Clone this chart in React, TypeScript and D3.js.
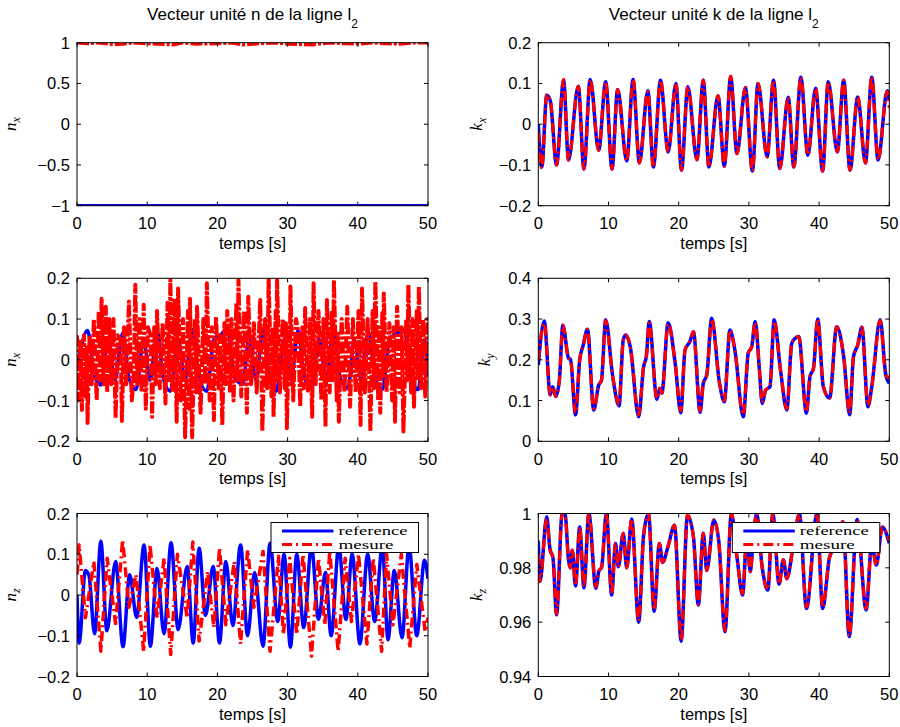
import React from 'react';
import * as d3 from 'd3';

// ---------- tick labels ----------
const T_TICKS = [0, 10, 20, 30, 40, 50];
const NX1_TICKS = [-1, -0.5, 0, 0.5, 1];
const NX1_LABELS = ['\u22121', '\u22120.5', '0', '0.5', '1'];
const PM02_TICKS = [-0.2, -0.1, 0, 0.1, 0.2];
const PM02_LABELS = ['\u22120.2', '\u22120.1', '0', '0.1', '0.2'];
const KY_TICKS = [0, 0.1, 0.2, 0.3, 0.4];
const KY_LABELS = ['0', '0.1', '0.2', '0.3', '0.4'];
const KZ_TICKS = [0.94, 0.96, 0.98, 1];
const KZ_LABELS = ['0.94', '0.96', '0.98', '1'];

// ---------- row 1 left : n_x ----------
const nxRefT = [0, 50];
const nxRefV = [-1, -1];
const nxMesT = [0, 1.5, 3, 4.5, 5.2, 6.5, 8, 10, 13.7, 15, 17, 20, 22, 23.6, 26, 28, 30, 33.6, 36, 38, 40, 42, 44, 46, 48, 50];
const nxMesV = [1, 0.99, 1, 0.985, 0.975, 0.985, 1, 0.99, 0.975, 1, 0.985, 0.99, 1, 0.975, 0.99, 1, 0.985, 0.975, 1, 0.99, 0.985, 1, 0.99, 0.985, 1, 1];

// ---------- row 2 left : n_x (second) ----------
const nyRefT = [0, 1.5, 2.5, 3.4, 4.4, 5.4, 6.5, 7.4, 8.4, 9.5, 10.4, 11.4, 12.3, 13.3, 14.4, 15.4, 16.4, 17.4, 18.5, 19.5, 20.5, 21.4, 22.5, 23.6, 24.5, 25.5, 26.5, 27.4, 28.4, 29.5, 30.5, 31.5, 32.4, 33.4, 34.5, 35.5, 36.5, 37.5, 38.6, 39.5, 40.5, 41.5, 42.5, 43.5, 44.5, 45.5, 46.6, 47.6, 48.6, 49.5, 50];
const nyRefV = [-0.02, 0.072, -0.04, -0.062, 0.05, -0.05, 0.065, -0.045, -0.073, 0.05, -0.05, 0.072, -0.045, -0.077, 0.05, -0.05, 0.075, -0.045, -0.077, 0.05, 0.062, 0.075, -0.045, -0.06, 0.05, -0.05, 0.075, -0.045, -0.077, 0.05, -0.05, 0.072, -0.045, -0.065, 0.05, -0.05, 0.066, -0.045, -0.07, 0.05, -0.05, 0.07, -0.045, -0.073, 0.05, 0.064, 0.075, -0.045, -0.073, 0.05, -0.04];
const nyMesT = [0, 0.2, 0.5, 0.7, 1.0, 1.2, 1.4, 1.5, 1.8, 2.1, 2.4, 2.8, 3.1, 3.3, 3.5, 3.8, 4.1, 4.3, 4.6, 4.9, 5.2, 5.5, 5.8, 6.2, 6.4, 6.7, 7.0, 7.4, 7.8, 8.1, 8.3, 8.6, 8.9, 9.2, 9.5, 9.8, 10.1, 10.5, 10.7, 11.0, 11.2, 11.4, 11.8, 12.2, 12.6, 12.9, 13.1, 13.3, 13.6, 13.9, 14.2, 14.4, 14.8, 15.1, 15.4, 15.8, 16.0, 16.1, 16.4, 16.8, 17.0, 17.1, 17.6, 18.0, 18.3, 18.5, 18.9, 19.2, 19.5, 19.8, 20.2, 20.4, 20.7, 21.0, 21.2, 21.4, 21.8, 22.0, 22.3, 22.7, 22.85, 23.0, 23.4, 23.8, 24.2, 24.4, 24.8, 25.2, 25.6, 26.1, 26.4, 26.8, 27.1, 27.3, 27.7, 27.85, 28.0, 28.3, 28.4, 28.5, 28.9, 29.3, 29.6, 29.75, 29.9, 30.2, 30.3, 30.4, 30.8, 31.2, 31.5, 31.8, 32.1, 32.3, 32.5, 32.9, 33.2, 33.5, 33.7, 34.0, 34.4, 34.8, 35.1, 35.4, 35.6, 36.0, 36.3, 36.45, 36.6, 37.0, 37.15, 37.3, 37.7, 38.1, 38.5, 38.9, 39.3, 39.7, 40.1, 40.4, 40.6, 41.0, 41.4, 41.8, 42.1, 42.3, 42.5, 42.9, 43.05, 43.2, 43.5, 43.6, 43.7, 44.1, 44.5, 44.9, 45.1, 45.3, 45.6, 46.0, 46.25, 46.5, 46.9, 47.05, 47.2, 47.6, 47.8, 48.0, 48.4, 48.55, 48.7, 49.0, 49.3, 49.6, 49.9, 50];
const nyMesV = [0.06, -0.1, 0.05, -0.123, 0.06, -0.09, 0.03, -0.155, 0.06, -0.06, 0.1, -0.1, 0.12, -0.05, 0.15, -0.06, 0.13, -0.08, 0.1, -0.06, 0.1, -0.143, 0.06, 0.05, -0.15, 0.08, -0.06, 0.143, -0.1, -0.04, 0.184, -0.06, 0.1, -0.08, 0.135, -0.12, 0.08, 0.06, -0.14, 0.08, -0.06, 0.12, -0.07, 0.09, -0.107, 0.14, -0.05, 0.196, -0.08, 0.15, -0.152, 0.175, -0.1, 0.1, -0.19, 0.12, -0.12, 0.15, -0.19, 0.1, -0.08, 0.13, -0.13, 0.1, -0.06, 0.188, -0.1, 0.08, -0.148, 0.105, -0.07, 0.06, -0.16, 0.09, -0.06, 0.12, -0.08, 0.1, -0.1, 0.14, -0.05, 0.196, -0.09, 0.12, -0.13, 0.155, -0.06, 0.09, -0.08, 0.147, -0.176, 0.1, -0.07, 0.2, -0.09, 0.08, -0.14, 0.12, -0.05, 0.196, -0.08, 0.1, -0.07, 0.09, -0.168, 0.08, -0.06, 0.18, -0.1, 0.1, 0.07, -0.115, 0.08, -0.07, 0.127, -0.08, 0.1, -0.14, 0.188, -0.06, 0.12, -0.1, 0.1, -0.164, 0.147, -0.08, 0.12, -0.05, 0.196, -0.1, 0.07, -0.152, 0.1, -0.08, 0.13, -0.115, 0.1, -0.08, 0.12, -0.16, 0.175, -0.08, 0.1, -0.176, 0.12, -0.07, 0.192, -0.1, 0.08, -0.13, 0.12, -0.04, 0.163, -0.08, 0.09, -0.1, 0.08, -0.152, 0.13, -0.08, 0.08, -0.176, 0.1, -0.05, 0.184, -0.08, 0.1, -0.115, 0.12, -0.05, 0.18, -0.07, 0.1, -0.09, 0.1, -0.02];

// ---------- row 3 left : n_z ----------
const nzRefT = [0, 0.3, 1.2, 1.7, 2.5, 3.4, 4.25, 5.5, 6.55, 7.5, 8.5, 9.55, 10.45, 11.4, 12.4, 13.4, 14.4, 15.7, 16.55, 17.4, 18.3, 19.4, 20.3, 21.2, 22.2, 23.3, 24.3, 25.3, 26.5, 27.5, 28.6, 29.5, 30.4, 31.3, 32.3, 33.4, 34.4, 35.4, 36.2, 37.3, 38.3, 39.2, 40.3, 41.4, 42.4, 43.5, 44.3, 45.2, 46.3, 47.3, 48.4, 49.5, 50];
const nzRefV = [0, -0.118, 0.06, 0.048, -0.095, 0.132, -0.088, 0.082, -0.127, 0.05, -0.055, 0.123, -0.126, 0.065, -0.095, 0.128, -0.085, 0.07, -0.118, 0.115, -0.05, 0.07, -0.118, 0.082, -0.075, 0.123, -0.1, 0.055, -0.126, 0.127, -0.065, 0.1, -0.128, 0.1, -0.08, 0.12, -0.06, 0.055, -0.1, 0.12, -0.06, 0.1, -0.12, 0.1, -0.065, 0.12, -0.11, 0.06, -0.105, 0.12, -0.1, 0.085, 0.04];
const nzMesT = [0, 0.3, 1.2, 2.4, 3.4, 4.3, 5.5, 6.5, 7.4, 8.4, 9.5, 10.4, 11.4, 12.4, 13.35, 14.3, 15.7, 16.5, 17.4, 18.6, 19.5, 20.3, 21.2, 22.4, 23.3, 24.3, 25.2, 26.5, 27.5, 28.7, 29.4, 30.3, 31.3, 32.2, 33.4, 34.4, 35.3, 36.0, 37.2, 38.2, 39.1, 40.1, 41.3, 42.2, 43.4, 44.1, 45.0, 46.2, 47.4, 48.4, 49.6, 50];
const nzMesV = [0.05, 0.123, -0.056, 0.082, -0.138, 0.09, -0.07, 0.135, -0.03, 0.05, -0.138, 0.123, -0.056, 0.09, -0.146, 0.1, -0.056, 0.13, -0.113, 0.058, -0.08, 0.115, -0.073, 0.082, -0.12, 0.111, -0.03, 0.107, -0.138, 0.095, -0.097, 0.09, -0.097, 0.1, -0.15, 0.09, -0.073, 0.107, -0.138, 0.09, -0.065, 0.1, -0.12, 0.09, -0.138, 0.1, -0.073, 0.1, -0.13, 0.075, -0.09, -0.056];

// ---------- row 1 right : k_x ----------
const kxT = [0, 0.5, 1.2, 1.7, 2.6, 3.6, 4.3, 5.7, 6.5, 7.4, 8.6, 9.6, 10.5, 11.3, 12.6, 13.5, 14.4, 15.6, 16.4, 17.4, 18.5, 19.6, 20.4, 21.3, 22.6, 23.5, 24.3, 25.6, 26.5, 27.4, 28.3, 29.5, 30.5, 31.3, 32.6, 33.5, 34.4, 35.6, 36.4, 37.4, 38.4, 39.5, 40.5, 41.3, 42.6, 43.5, 44.4, 45.5, 46.6, 47.5, 48.4, 49.7, 50];
const kxRefV = [0, -0.105, 0.071, 0.058, -0.1, 0.108, -0.088, 0.093, -0.11, 0.11, -0.064, 0.104, -0.11, 0.085, -0.09, 0.11, -0.095, 0.082, -0.105, 0.108, -0.068, 0.1, -0.113, 0.092, -0.087, 0.108, -0.105, 0.07, -0.103, 0.116, -0.072, 0.09, -0.115, 0.1, -0.08, 0.108, -0.109, 0.066, -0.105, 0.115, -0.076, 0.088, -0.115, 0.104, -0.068, 0.108, -0.113, 0.067, -0.095, 0.115, -0.088, 0.082, 0.06];
const kxMesV = [-0.02, -0.108, 0.073, 0.06, -0.1, 0.11, -0.088, 0.093, -0.11, 0.11, -0.064, 0.104, -0.11, 0.085, -0.09, 0.11, -0.095, 0.08, -0.105, 0.108, -0.068, 0.1, -0.113, 0.092, -0.087, 0.108, -0.105, 0.07, -0.103, 0.118, -0.072, 0.09, -0.115, 0.1, -0.08, 0.108, -0.109, 0.066, -0.105, 0.115, -0.076, 0.088, -0.115, 0.104, -0.068, 0.108, -0.113, 0.067, -0.095, 0.117, -0.088, 0.08, 0.04];

// ---------- row 2 right : k_y ----------
const kyT = [0, 0.85, 1.7, 2.05, 2.5, 3.0, 3.5, 4.3, 4.6, 5.3, 5.9, 6.4, 7.0, 7.9, 8.6, 9.0, 9.6, 10.6, 11.5, 12.1, 12.45, 13.1, 14.3, 15.0, 15.4, 15.8, 16.9, 17.3, 17.6, 18.5, 19.5, 20.3, 20.9, 21.6, 22.1, 23.05, 23.5, 24.0, 24.7, 25.8, 26.5, 27.3, 28.0, 29.2, 29.9, 30.4, 30.9, 31.5, 31.9, 32.4, 33.0, 33.6, 34.5, 35.4, 36.1, 36.6, 37.1, 38.2, 38.7, 39.2, 39.8, 40.6, 41.5, 42.5, 43.5, 44.35, 44.9, 45.5, 46.1, 46.96, 47.5, 48.7, 49.5, 50];
const kyRefV = [0.187, 0.295, 0.114, 0.134, 0.11, 0.15, 0.285, 0.204, 0.2, 0.065, 0.2, 0.236, 0.275, 0.077, 0.138, 0.15, 0.298, 0.159, 0.087, 0.249, 0.261, 0.232, 0.06, 0.183, 0.21, 0.294, 0.103, 0.13, 0.118, 0.291, 0.191, 0.07, 0.224, 0.245, 0.269, 0.071, 0.142, 0.163, 0.302, 0.144, 0.097, 0.273, 0.224, 0.06, 0.216, 0.232, 0.294, 0.175, 0.093, 0.126, 0.134, 0.298, 0.175, 0.077, 0.24, 0.253, 0.257, 0.069, 0.159, 0.179, 0.3, 0.134, 0.106, 0.281, 0.208, 0.065, 0.208, 0.236, 0.28, 0.085, 0.134, 0.298, 0.163, 0.142];
const kyMesV = [0.2, 0.29, 0.114, 0.134, 0.11, 0.15, 0.285, 0.204, 0.2, 0.07, 0.2, 0.236, 0.275, 0.08, 0.138, 0.15, 0.296, 0.159, 0.09, 0.249, 0.261, 0.232, 0.065, 0.183, 0.21, 0.29, 0.105, 0.13, 0.118, 0.288, 0.191, 0.075, 0.224, 0.245, 0.269, 0.075, 0.142, 0.163, 0.3, 0.144, 0.1, 0.273, 0.224, 0.065, 0.216, 0.232, 0.292, 0.175, 0.095, 0.126, 0.134, 0.295, 0.175, 0.08, 0.24, 0.253, 0.257, 0.072, 0.159, 0.179, 0.3, 0.134, 0.106, 0.281, 0.208, 0.07, 0.208, 0.236, 0.28, 0.088, 0.134, 0.296, 0.163, 0.155];

// ---------- row 3 right : k_z ----------
const kzT = [0, 0.24, 1.2, 1.66, 2.1, 2.6, 3.4, 3.8, 4.3, 4.55, 4.85, 5.3, 5.9, 6.5, 7.2, 8.2, 8.65, 9.0, 9.7, 10.45, 11.0, 11.4, 12.1, 12.6, 13.3, 14.3, 15.0, 15.7, 16.5, 17.25, 17.7, 18.5, 19.4, 20.35, 21.25, 22.1, 22.8, 23.5, 24.0, 25.0, 25.7, 26.6, 27.5, 28.3, 29.1, 29.7, 30.2, 30.55, 31.1, 31.9, 32.7, 33.4, 34.3, 34.9, 35.4, 36.3, 37.2, 38.2, 39.7, 40.5, 41.5, 42.5, 43.4, 44.3, 45.4, 46.7, 47.5, 48.15, 49.0, 50];
const kzRefV = [0.99, 0.975, 0.9988, 0.987, 0.9835, 0.9627, 1.0, 1.0, 0.983, 0.98, 0.9865, 0.9733, 0.995, 0.9727, 1.0, 0.9725, 0.979, 0.98, 1.0, 0.97, 0.989, 0.9804, 0.9927, 0.98, 0.998, 0.96, 0.992, 1.0, 0.964, 0.989, 0.982, 0.988, 0.9957, 0.953, 0.9994, 0.9914, 0.9663, 0.9927, 0.979, 0.9976, 0.99, 0.9565, 1.0, 0.984, 0.97, 0.991, 0.9786, 0.9878, 1.0, 0.98, 0.9718, 1.0, 0.974, 0.983, 0.976, 0.9878, 1.0, 0.965, 1.0, 0.965, 0.984, 0.989, 0.997, 0.9547, 0.9978, 0.9645, 0.989, 0.981, 0.995, 0.989];
const kzMesV = [0.985, 0.975, 0.998, 0.987, 0.9835, 0.963, 1.0, 1.0, 0.983, 0.98, 0.9865, 0.9735, 0.995, 0.973, 1.0, 0.973, 0.979, 0.98, 1.0, 0.9705, 0.989, 0.9804, 0.9927, 0.98, 0.998, 0.9605, 0.992, 1.0, 0.9645, 0.989, 0.982, 0.988, 0.9957, 0.9535, 0.9994, 0.9914, 0.9665, 0.9927, 0.979, 0.9976, 0.99, 0.957, 1.0, 0.984, 0.9705, 0.991, 0.9786, 0.9878, 1.0, 0.98, 0.972, 1.0, 0.974, 0.983, 0.976, 0.9878, 1.0, 0.9655, 1.0, 0.9655, 0.984, 0.989, 0.997, 0.955, 0.9978, 0.965, 0.989, 0.981, 0.995, 0.99];

// ---------- legend ----------
const LEGEND_LABELS = ['reference', 'mesure'];

const BLUE = '#0000ff';
const RED = '#ff0000';
const DASHDOT = '10,4,2,4';
const DENSE_DASHDOT = '12,2,3,2';
const SANS = '"Liberation Sans", Arial, Helvetica, sans-serif';
const SERIF = '"Liberation Serif", "Times New Roman", serif';

type Series = { t: number[]; v: number[]; color: string; dash?: string; width: number; smooth: boolean };

type PanelProps = {
  id: string;
  x0: number; y0: number; w: number; h: number;
  yDomain: [number, number];
  yTicks: number[]; yLabels: string[];
  ylab: string; ysub: string; ylabX: number;
  series: Series[];
  title?: string;
  legend?: boolean;
};

function Panel(p: PanelProps) {
  const xs = d3.scaleLinear().domain([0, 50]).range([p.x0, p.x0 + p.w]);
  const ys = d3.scaleLinear().domain(p.yDomain).range([p.y0 + p.h, p.y0]);
  const tl = 4;
  const fs = 16.5;
  const lx = p.x0 + p.w - 9.5 - 147.5;
  return (
    <g>
      <defs>
        <clipPath id={'clip-' + p.id}>
          <rect x={p.x0} y={p.y0} width={p.w} height={p.h} />
        </clipPath>
      </defs>
      <rect x={p.x0} y={p.y0} width={p.w} height={p.h} fill="#fff" />
      <g clipPath={`url(#clip-${p.id})`}>
        {p.series.map((s, i) => {
          const pts: [number, number][] = s.t.map((t, k) => [t, s.v[k]]);
          const gen = d3.line<[number, number]>()
            .x(d => xs(d[0]))
            .y(d => ys(d[1]))
            .curve(s.smooth ? d3.curveMonotoneX : d3.curveLinear);
          return (
            <path key={i} d={gen(pts) || ''} fill="none" stroke={s.color}
              strokeWidth={s.width} strokeDasharray={s.dash} strokeLinejoin="round" strokeLinecap="butt" />
          );
        })}
      </g>
      {T_TICKS.map(t => (
        <g key={'xt' + t}>
          <line x1={xs(t)} x2={xs(t)} y1={p.y0 + p.h} y2={p.y0 + p.h - tl} stroke="#000" strokeWidth={1} />
          <line x1={xs(t)} x2={xs(t)} y1={p.y0} y2={p.y0 + tl} stroke="#000" strokeWidth={1} />
          <text x={xs(t)} y={p.y0 + p.h + 23.5} textAnchor="middle" fontFamily={SANS} fontSize={fs}>{t}</text>
        </g>
      ))}
      {p.yTicks.map((v, i) => (
        <g key={'yt' + i}>
          <line x1={p.x0} x2={p.x0 + tl} y1={ys(v)} y2={ys(v)} stroke="#000" strokeWidth={1} />
          <line x1={p.x0 + p.w} x2={p.x0 + p.w - tl} y1={ys(v)} y2={ys(v)} stroke="#000" strokeWidth={1} />
          <text x={p.x0 - 7} y={ys(v) + 6} textAnchor="end" fontFamily={SANS} fontSize={fs}>{p.yLabels[i]}</text>
        </g>
      ))}
      <rect x={p.x0} y={p.y0} width={p.w} height={p.h} fill="none" stroke="#000" strokeWidth={1} />
      <text x={p.x0 + p.w / 2} y={p.y0 + p.h + 43} textAnchor="middle" fontFamily={SANS} fontSize={fs}>temps [s]</text>
      <text transform={`translate(${p.ylabX},${p.y0 + p.h / 2}) rotate(-90)`} textAnchor="middle" fontFamily={SERIF} fontStyle="italic" fontSize={17}>
        {p.ylab}<tspan dy={4} fontSize={12}>{p.ysub}</tspan>
      </text>
      {p.title && (
        <text x={p.x0 + p.w / 2} y={p.y0 - 23} textAnchor="middle" fontFamily={SANS} fontSize={17}>
          {p.title}<tspan dy={8} fontSize={12}>2</tspan>
        </text>
      )}
      {p.legend && (
        <g>
          <rect x={lx} y={p.y0 + 9} width={147.5} height={30} fill="#fff" stroke="#000" strokeWidth={1} />
          <line x1={lx + 11} x2={lx + 62.5} y1={p.y0 + 17.5} y2={p.y0 + 17.5} stroke={BLUE} strokeWidth={3} />
          <line x1={lx + 11} x2={lx + 62.5} y1={p.y0 + 31} y2={p.y0 + 31} stroke={RED} strokeWidth={3} strokeDasharray={DASHDOT} />
          <text x={lx + 67.5} y={p.y0 + 21.5} fontFamily={SERIF} fontSize={12} textLength={69} lengthAdjust="spacingAndGlyphs">{LEGEND_LABELS[0]}</text>
          <text x={lx + 67.5} y={p.y0 + 35.5} fontFamily={SERIF} fontSize={12} textLength={55} lengthAdjust="spacingAndGlyphs">{LEGEND_LABELS[1]}</text>
        </g>
      )}
    </g>
  );
}

export default function App() {
  const LX = 77, RX = 538.3, W = 351, H = 163;
  const R1 = 42.7, R2 = 278.3, R3 = 513.5;
  const blue = (t: number[], v: number[], smooth = true): Series => ({ t, v, color: BLUE, width: 3.5, smooth });
  const red = (t: number[], v: number[], smooth = true, width = 3.2, dash = DASHDOT): Series => ({ t, v, color: RED, width, dash, smooth });
  return (
    <svg width={900} height={727} style={{ display: 'block', position: 'absolute', left: 0, top: 0, background: '#fff' }}>
      <rect x={0} y={0} width={900} height={727} fill="#fff" />
      <Panel id="a" x0={LX} y0={R1} w={W} h={H} yDomain={[-1, 1]} yTicks={NX1_TICKS} yLabels={NX1_LABELS}
        ylab="n" ysub="x" ylabX={16} title="Vecteur unité n de la ligne l"
        series={[blue(nxRefT, nxRefV, false), red(nxMesT, nxMesV, false, 3.5, DENSE_DASHDOT)]} />
      <Panel id="b" x0={RX} y0={R1} w={W} h={H} yDomain={[-0.2, 0.2]} yTicks={PM02_TICKS} yLabels={PM02_LABELS}
        ylab="k" ysub="x" ylabX={482} title="Vecteur unité k de la ligne l"
        series={[blue(kxT, kxRefV), red(kxT, kxMesV)]} />
      <Panel id="c" x0={LX} y0={R2} w={W} h={H} yDomain={[-0.2, 0.2]} yTicks={PM02_TICKS} yLabels={PM02_LABELS}
        ylab="n" ysub="x" ylabX={16}
        series={[blue(nyRefT, nyRefV), red(nyMesT, nyMesV, false, 4, DENSE_DASHDOT)]} />
      <Panel id="d" x0={RX} y0={R2} w={W} h={H} yDomain={[0, 0.4]} yTicks={KY_TICKS} yLabels={KY_LABELS}
        ylab="k" ysub="y" ylabX={490}
        series={[blue(kyT, kyRefV), red(kyT, kyMesV)]} />
      <Panel id="e" x0={LX} y0={R3} w={W} h={H} yDomain={[-0.2, 0.2]} yTicks={PM02_TICKS} yLabels={PM02_LABELS}
        ylab="n" ysub="z" ylabX={16} legend
        series={[blue(nzRefT, nzRefV), red(nzMesT, nzMesV, false, 3.5)]} />
      <Panel id="f" x0={RX} y0={R3} w={W} h={H} yDomain={[0.94, 1]} yTicks={KZ_TICKS} yLabels={KZ_LABELS}
        ylab="k" ysub="z" ylabX={482} legend
        series={[blue(kzT, kzRefV), red(kzT, kzMesV)]} />
    </svg>
  );
}
